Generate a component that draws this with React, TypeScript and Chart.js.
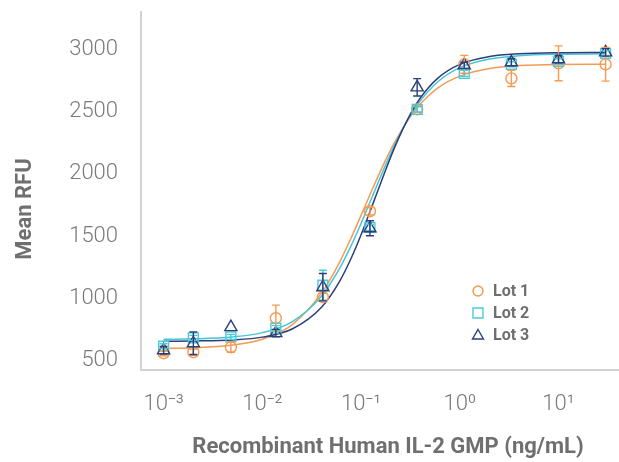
import React, { useEffect, useRef } from 'react';
import { Chart, registerables } from 'chart.js';

Chart.register(...registerables);

// ---- data ----
const concentrations = [0.001, 0.002, 0.0048, 0.0137, 0.041, 0.123, 0.37, 1.11, 3.33, 10, 30];

const lot1Values = [560, 568, 608, 841, 1010, 1700, 2518, 2880, 2767, 2888, 2880];
const lot1Errors = [20, 25, 40, 105, 30, 30, 25, 72, 65, 140, 135];
const lot2Values = [616, 683, 691, 761, 1106, 1571, 2518, 2807, 2880, 2904, 2968];
const lot2Errors = [20, 20, 20, 20, 120, 25, 20, 25, 20, 20, 20];
const lot3Values = [584, 640, 769, 721, 1090, 1563, 2695, 2872, 2896, 2920, 2976];
const lot3Errors = [30, 90, 0, 30, 110, 60, 70, 25, 30, 30, 30];

const curveX = [0.001, 0.002, 0.005, 0.01, 0.02, 0.04, 0.06, 0.08, 0.1, 0.13, 0.17, 0.22, 0.3, 0.4, 0.6, 1, 2, 4, 10, 30];
const lot1Curve = [598, 603, 625, 672, 788, 1046, 1284, 1492, 1667, 1876, 2080, 2257, 2434, 2563, 2691, 2785, 2847, 2870, 2879, 2880];
const lot2Curve = [672, 675, 690, 725, 812, 1021, 1235, 1430, 1602, 1818, 2038, 2235, 2439, 2588, 2740, 2853, 2922, 2949, 2961, 2964];
const lot3Curve = [656, 658, 666, 689, 754, 931, 1130, 1328, 1511, 1747, 1993, 2217, 2446, 2611, 2769, 2879, 2942, 2964, 2973, 2975];

const seriesNames = ['Lot 1', 'Lot 2', 'Lot 3'];
const xTickValues = [0.001, 0.01, 0.1, 1, 10];
const yTickValues = [500, 1000, 1500, 2000, 2500, 3000];
const xTitle = 'Recombinant Human IL-2 GMP (ng/mL)';
const yTitle = 'Mean RFU';

const COLORS = ['#F7994F', '#4DCAD8', '#2B3F7C'];
const CURVE_COLORS = ['#F59A55', '#45C6D8', '#2B3F7C'];
const POINT_STYLES = ['circle', 'rect', 'triangle'];
const POINT_RADII = [5.5, 7, 7];

const SUP: Record<string, string> = { '-': '\u207B', '0': '\u2070', '1': '\u00B9', '2': '\u00B2', '3': '\u00B3' };
const supText = (n: number) => String(n).split('').map((c) => SUP[c] || c).join('');

const TEXT_GRAY = '#6f6f6f';
const TICK_GRAY = '#7a7a7a';

function pts(xs: number[], ys: number[]) {
  return xs.map((x, i) => ({ x, y: ys[i] }));
}

const errorBarPlugin = {
  id: 'errorBars',
  afterDatasetsDraw(chart: any) {
    const { ctx, scales } = chart;
    const xs = scales.x;
    const ys = scales.y;
    chart.data.datasets.forEach((ds: any, di: number) => {
      if (!ds.errors) return;
      if (!chart.isDatasetVisible(di)) return;
      ctx.save();
      ctx.strokeStyle = ds.borderColor;
      ctx.lineWidth = 1.4;
      ds.data.forEach((p: any, i: number) => {
        const e = ds.errors[i];
        if (!e) return;
        const px = xs.getPixelForValue(p.x);
        const yTop = ys.getPixelForValue(p.y + e);
        const yBot = ys.getPixelForValue(p.y - e);
        const cap = 4;
        ctx.beginPath();
        ctx.moveTo(px, yTop);
        ctx.lineTo(px, yBot);
        ctx.moveTo(px - cap, yTop);
        ctx.lineTo(px + cap, yTop);
        ctx.moveTo(px - cap, yBot);
        ctx.lineTo(px + cap, yBot);
        ctx.stroke();
      });
      ctx.restore();
    });
  },
};

function drawMarker(ctx: CanvasRenderingContext2D, style: string, x: number, y: number, r: number) {
  ctx.beginPath();
  if (style === 'circle') {
    ctx.arc(x, y, r, 0, Math.PI * 2);
  } else if (style === 'rect') {
    ctx.rect(x - r, y - r, 2 * r, 2 * r);
  } else {
    ctx.moveTo(x, y - r * 1.1);
    ctx.lineTo(x + r * 1.1, y + r * 0.8);
    ctx.lineTo(x - r * 1.1, y + r * 0.8);
    ctx.closePath();
  }
  ctx.stroke();
}

const legendPlugin = {
  id: 'customLegend',
  afterDraw(chart: any) {
    const { ctx, chartArea } = chart;
    const mx = chartArea.left + 337;
    const tx = chartArea.left + 352;
    const y0 = chartArea.top + 279;
    ctx.save();
    ctx.font = 'bold 16px Roboto';
    ctx.textAlign = 'left';
    ctx.textBaseline = 'middle';
    seriesNames.forEach((name, i) => {
      const y = y0 + i * 22;
      ctx.strokeStyle = COLORS[i];
      ctx.lineWidth = 1.4;
      drawMarker(ctx, POINT_STYLES[i], mx, y, 5);
      ctx.fillStyle = TEXT_GRAY;
      ctx.fillText(name, tx, y + 1);
    });
    ctx.restore();
  },
};

const axisTitlePlugin = {
  id: 'axisTitles',
  afterDraw(chart: any) {
    const { ctx, chartArea } = chart;
    ctx.save();
    ctx.fillStyle = TEXT_GRAY;
    ctx.font = 'bold 22px Roboto';
    ctx.textAlign = 'center';
    ctx.textBaseline = 'middle';
    ctx.fillText(xTitle, chartArea.left + 247, chartArea.bottom + 77);
    ctx.translate(25, chartArea.top + 197);
    ctx.rotate(-Math.PI / 2);
    ctx.fillText(yTitle, 0, 0);
    ctx.restore();
  },
};

function zeroPadding(scale: any) {
  scale.paddingTop = 0;
  scale.paddingBottom = 0;
  scale.paddingLeft = 0;
  scale.paddingRight = 0;
}

export default function App() {
  const canvasRef = useRef<HTMLCanvasElement | null>(null);

  useEffect(() => {
    document.body.style.margin = '0';
    const canvas = canvasRef.current;
    if (!canvas) return;

    const valueSets = [lot1Values, lot2Values, lot3Values];
    const errorSets = [lot1Errors, lot2Errors, lot3Errors];
    const curveSets = [lot1Curve, lot2Curve, lot3Curve];

    const curveDatasets = curveSets.map((c, i) => ({
      label: seriesNames[i] + ' fit',
      data: pts(curveX, c),
      borderColor: CURVE_COLORS[i],
      backgroundColor: 'transparent',
      borderWidth: 1.5,
      pointRadius: 0,
      showLine: true,
      cubicInterpolationMode: 'monotone',
      fill: false,
      order: 5 - i,
    }));

    const pointDatasets = valueSets.map((v, i) => ({
      label: seriesNames[i],
      data: pts(concentrations, v),
      errors: errorSets[i],
      borderColor: COLORS[i],
      backgroundColor: 'transparent',
      borderWidth: 1.4,
      pointStyle: POINT_STYLES[i],
      pointRadius: POINT_RADII[i],
      showLine: false,
      order: 2 - i,
    }));

    const chart = new Chart(canvas, {
      type: 'line',
      data: { datasets: [...curveDatasets, ...pointDatasets] as any },
      options: {
        animation: false,
        responsive: false,
        maintainAspectRatio: false,
        layout: { autoPadding: false, padding: { top: 12, left: 0, right: 0, bottom: 0 } },
        plugins: {
          legend: { display: false },
          tooltip: { enabled: false },
        },
        scales: {
          x: {
            type: 'logarithmic',
            min: 0.00059,
            max: 41,
            grid: { display: false, drawTicks: false },
            border: { display: true, color: '#d2d2d2', width: 2 },
            afterBuildTicks: (scale: any) => {
              scale.ticks = xTickValues.map((v) => ({ value: v }));
            },
            afterFit: (scale: any) => {
              scale.height = 92;
              zeroPadding(scale);
            },
            ticks: {
              autoSkip: false,
              maxRotation: 0,
              padding: 21,
              color: TICK_GRAY,
              font: { family: 'Roboto', size: 22, weight: '300' as any },
              callback: (value: any) => '10' + supText(Math.round(Math.log10(Number(value)))),
            },
          },
          y: {
            type: 'linear',
            min: 425,
            max: 3300,
            grid: { display: false, drawTicks: false },
            border: { display: true, color: '#d2d2d2', width: 2 },
            afterBuildTicks: (scale: any) => {
              scale.ticks = yTickValues.map((v) => ({ value: v }));
            },
            afterFit: (scale: any) => {
              scale.width = 141;
              zeroPadding(scale);
            },
            ticks: {
              padding: 23,
              color: TICK_GRAY,
              font: { family: 'Roboto', size: 22, weight: '300' as any },
              callback: (value: any) => String(value),
            },
          },
        },
      } as any,
      plugins: [errorBarPlugin, legendPlugin, axisTitlePlugin],
    });

    return () => {
      chart.destroy();
    };
  }, []);

  return (
    <div style={{ position: 'absolute', left: 0, top: 0, width: 619, height: 462, background: '#fff' }}>
      <canvas ref={canvasRef} width={619} height={462} style={{ width: 619, height: 462, display: 'block' }} />
    </div>
  );
}
